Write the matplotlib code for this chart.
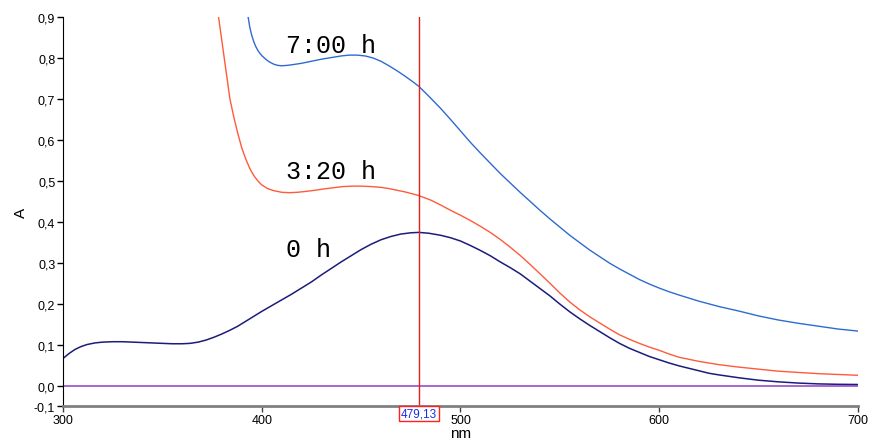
import matplotlib
matplotlib.use('Agg')
from matplotlib import pyplot as plt
from matplotlib.ticker import FuncFormatter

# absorbance spectra read at selected wavelengths (nm)
wl_0h = [300, 303, 306, 309, 312, 316, 320, 325, 330, 335, 340, 345, 350, 355, 360, 364,
         368, 372, 376, 380, 384, 388, 392, 396, 400, 405, 410, 415, 420, 425, 430, 435,
         440, 445, 450, 455, 460, 465, 470, 475, 479, 484, 490, 495, 500, 505, 510, 515,
         520, 525, 530, 535, 540, 545, 550, 555, 560, 565, 570, 575, 580, 585, 590, 595,
         600, 605, 610, 615, 620, 625, 630, 640, 650, 660, 670, 680, 690, 700]
a_0h = [0.066, 0.078, 0.088, 0.095, 0.100, 0.104, 0.106, 0.107, 0.107, 0.106, 0.105, 0.104,
        0.103, 0.102, 0.102, 0.103, 0.106, 0.111, 0.118, 0.126, 0.135, 0.145, 0.157, 0.169,
        0.181, 0.195, 0.209, 0.223, 0.238, 0.253, 0.270, 0.286, 0.302, 0.317, 0.332, 0.345,
        0.356, 0.364, 0.370, 0.373, 0.374, 0.372, 0.367, 0.361, 0.353, 0.342, 0.330, 0.317,
        0.302, 0.288, 0.273, 0.255, 0.237, 0.219, 0.199, 0.180, 0.163, 0.147, 0.132, 0.117,
        0.103, 0.091, 0.081, 0.071, 0.063, 0.055, 0.048, 0.042, 0.036, 0.030, 0.026, 0.019,
        0.013, 0.009, 0.006, 0.004, 0.003, 0.0025]

wl_3h = [376, 378, 380, 382, 384, 386, 388, 390, 392, 394, 396, 398, 400, 403, 406, 410,
         414, 418, 422, 427, 431, 436, 441, 446, 450, 455, 460, 464, 468, 472, 476, 479,
         485, 490, 495, 500, 505, 510, 515, 520, 525, 530, 535, 540, 545, 550, 555, 560,
         565, 570, 575, 580, 585, 590, 595, 600, 605, 610, 620, 630, 640, 650, 660, 670,
         680, 690, 700]
a_3h = [0.98, 0.91, 0.84, 0.77, 0.70, 0.655, 0.615, 0.580, 0.553, 0.530, 0.513, 0.500,
        0.490, 0.481, 0.476, 0.472, 0.471, 0.472, 0.474, 0.477, 0.480, 0.483, 0.486, 0.487,
        0.487, 0.486, 0.484, 0.481, 0.477, 0.473, 0.468, 0.464, 0.453, 0.441, 0.428, 0.416,
        0.403, 0.389, 0.374, 0.357, 0.338, 0.318, 0.296, 0.273, 0.250, 0.226, 0.204, 0.185,
        0.168, 0.153, 0.138, 0.124, 0.113, 0.103, 0.094, 0.086, 0.077, 0.069, 0.059, 0.051,
        0.045, 0.040, 0.035, 0.032, 0.029, 0.027, 0.025]

wl_7h = [392, 393, 394, 395, 396, 397, 398, 399, 400, 402, 404, 406, 408, 410, 413, 416,
         420, 425, 430, 435, 440, 444, 448, 452, 456, 460, 464, 468, 472, 476, 479, 484,
         490, 495, 500, 505, 510, 515, 520, 525, 530, 535, 540, 545, 550, 555, 560, 565,
         570, 575, 580, 585, 590, 595, 600, 605, 610, 620, 630, 640, 650, 660, 670, 680,
         690, 700]
a_7h = [0.94, 0.905, 0.875, 0.855, 0.840, 0.828, 0.819, 0.812, 0.806, 0.797, 0.790, 0.785,
        0.782, 0.781, 0.782, 0.784, 0.787, 0.792, 0.797, 0.801, 0.805, 0.807, 0.807, 0.805,
        0.800, 0.792, 0.781, 0.769, 0.756, 0.742, 0.731, 0.707, 0.677, 0.650, 0.622, 0.594,
        0.568, 0.543, 0.518, 0.495, 0.472, 0.450, 0.428, 0.407, 0.387, 0.367, 0.349, 0.331,
        0.315, 0.299, 0.285, 0.272, 0.259, 0.248, 0.238, 0.229, 0.221, 0.206, 0.193, 0.182,
        0.170, 0.160, 0.152, 0.145, 0.138, 0.133]

wl_base = [300, 700]
a_base = [0.0, 0.0]

cursor_nm = 479.13
x_ticks = [300, 400, 500, 600, 700]
y_ticks = [-0.05, 0.0, 0.1, 0.2, 0.3, 0.4, 0.5, 0.6, 0.7, 0.8, 0.9]

plt.rcParams['font.family'] = ['Liberation Sans', 'DejaVu Sans']

fig = plt.figure(figsize=(8.71, 4.39), dpi=100)
ax = fig.add_axes([0.0723, 0.0729, 0.9127, 0.886])

ax.plot(wl_base, a_base, c='#a05ad2', lw=1.3)
ax.plot(wl_0h, a_0h, c='#1c1c7a', lw=1.1)
ax.plot(wl_3h, a_3h, c='#ff5a3a', lw=1.0)
ax.plot(wl_7h, a_7h, c='#2e6bd0', lw=1.0)
ax.axvline(cursor_nm, c='#e02020', lw=1.0)

mono = ['Liberation Mono', 'DejaVu Sans Mono']
ax.text(412.2, 0.815, '7:00 h', family=mono, fontsize=18)
ax.text(412.2, 0.507, '3:20 h', family=mono, fontsize=18)
ax.text(412.2, 0.317, '0 h', family=mono, fontsize=18)

ax.annotate('{:.2f}'.format(cursor_nm).replace('.', ','), xy=(cursor_nm, 0),
            xycoords=ax.get_xaxis_transform(), xytext=(0, -5.5),
            textcoords='offset points', ha='center', va='center',
            fontsize=8.5, color='#1a2ee6',
            bbox=dict(boxstyle='square,pad=0.15', fc='white', ec='#ff2020', lw=1.0))

ax.set_xlim(300, 700)
ax.set_ylim(-0.05, 0.9)
ax.set_xticks(x_ticks)
ax.set_yticks(y_ticks)
ax.xaxis.set_major_formatter(FuncFormatter(lambda v, p: '{:d}'.format(int(v))))
# bottom of the axis is labelled as the rounded value
ax.yaxis.set_major_formatter(FuncFormatter(
    lambda v, p: '{:.1f}'.format(-0.1 if v < -0.01 else v).replace('.', ',')))

for side in ['top', 'right']:
    ax.spines[side].set_visible(False)
ax.spines['left'].set_color('black')
ax.spines['bottom'].set_color('#808080')
ax.spines['bottom'].set_linewidth(2.0)
ax.tick_params(axis='both', labelsize=9, direction='out', length=4, width=1, pad=1.5)
ax.tick_params(axis='x', color='#404040')

ax.set_xlabel('nm', fontsize=11, labelpad=0)
ax.set_ylabel('A', fontsize=11, labelpad=4)

plt.savefig('out.png', dpi=100)
